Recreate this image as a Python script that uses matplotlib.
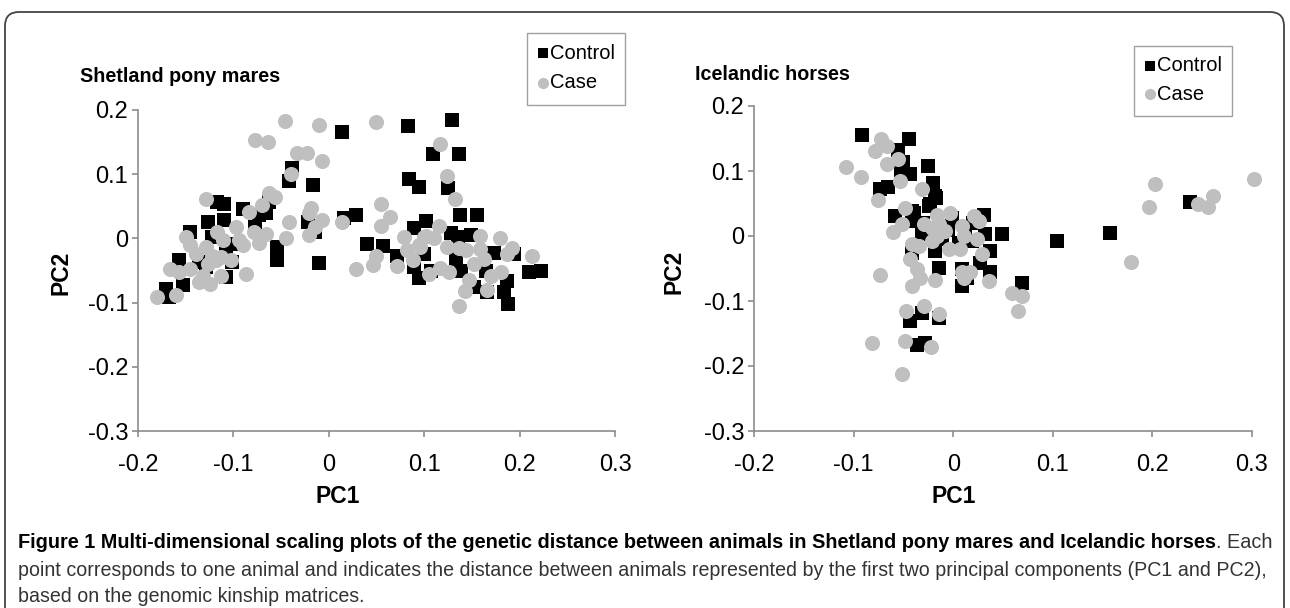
import matplotlib.pyplot as plt
from matplotlib.patches import FancyBboxPatch

plt.rcParams['font.family'] = ['Liberation Sans', 'DejaVu Sans']

# Shetland pony mares (PC1, PC2)
shet_ctrl_pc1 = [-0.117, -0.110, -0.090, -0.073, -0.066, -0.063, -0.127, -0.110, -0.077, -0.145,
                 -0.122, -0.054, -0.054, -0.010, -0.022, -0.014, -0.157, -0.108, -0.101, -0.129,
                 -0.108, -0.153, -0.171, -0.167, -0.103, -0.136,
                 0.014, 0.083, 0.129, 0.109, 0.137, -0.039, -0.042, -0.017, 0.084, 0.095,
                 0.125, 0.016, 0.028, 0.089, 0.102, 0.138, 0.155, 0.040, 0.057, 0.072,
                 0.100, 0.128, 0.135, 0.149, 0.089, 0.095, 0.107, 0.133, 0.139, 0.173,
                 0.194, 0.165, 0.187, 0.184, 0.188, 0.166, 0.152, 0.210, 0.222]
shet_ctrl_pc2 = [0.057, 0.054, 0.046, 0.036, 0.039, 0.057, 0.025, 0.028, 0.018, 0.010,
                 0.002, -0.014, -0.034, -0.039, 0.025, 0.010, -0.034, -0.016, -0.037, -0.045,
                 -0.060, -0.073, -0.079, -0.092, -0.008, -0.037,
                 0.165, 0.175, 0.185, 0.132, 0.131, 0.109, 0.090, 0.083, 0.092, 0.080,
                 0.078, 0.031, 0.037, 0.016, 0.027, 0.036, 0.037, -0.009, -0.012, -0.028,
                 -0.024, 0.008, 0.002, 0.005, -0.045, -0.061, -0.050, -0.032, -0.050, -0.023,
                 -0.024, -0.051, -0.067, -0.084, -0.102, -0.084, -0.076, -0.052, -0.051]

shet_case_pc1 = [-0.129, -0.084, -0.070, -0.063, -0.056, -0.019, -0.021, -0.007, -0.014, -0.021,
                 -0.042, -0.045, -0.066, -0.073, -0.078, -0.097, -0.117, -0.111, -0.094, -0.090,
                 -0.150, -0.146, -0.129, -0.139, -0.122, -0.113, -0.103, -0.127, -0.146, -0.157,
                 -0.166, -0.113, -0.087, -0.136, -0.125, -0.132, -0.180, -0.160, -0.118,
                 -0.046, -0.010, 0.049, -0.077, -0.064, -0.033, -0.023, -0.007, -0.040, 0.055,
                 0.064, 0.055, 0.014, 0.079, 0.100, 0.082, 0.095, 0.049, 0.117, 0.124,
                 0.132, 0.115, 0.102, 0.110, 0.158, 0.179, 0.096, 0.124, 0.137, 0.144,
                 0.159, 0.163, 0.152, 0.192, 0.187, 0.213, 0.117, 0.126, 0.105, 0.147,
                 0.143, 0.170, 0.180, 0.166, 0.137, 0.028, 0.046, 0.071, 0.088]
shet_case_pc2 = [0.062, 0.041, 0.052, 0.070, 0.065, 0.047, 0.039, 0.029, 0.018, 0.005,
                 0.025, 0.000, 0.007, -0.007, 0.010, 0.018, 0.010, -0.003, -0.003, -0.011,
                 0.002, -0.011, -0.014, -0.024, -0.027, -0.029, -0.034, -0.040, -0.047, -0.053,
                 -0.047, -0.058, -0.055, -0.068, -0.071, -0.058, -0.092, -0.088, -0.034,
                 0.183, 0.177, 0.181, 0.153, 0.150, 0.133, 0.133, 0.120, 0.101, 0.053,
                 0.033, 0.019, 0.025, 0.002, 0.002, -0.018, -0.011, -0.028, 0.147, 0.097,
                 0.061, 0.020, 0.003, 0.001, 0.003, 0.000, -0.013, -0.014, -0.015, -0.018,
                 -0.016, -0.032, -0.040, -0.015, -0.025, -0.028, -0.046, -0.053, -0.055, -0.065,
                 -0.082, -0.058, -0.052, -0.080, -0.105, -0.047, -0.041, -0.043, -0.034]

# Icelandic horses (PC1, PC2)
ice_ctrl_pc1 = [-0.092, -0.044, -0.055, -0.050, -0.043, -0.025, -0.020, -0.052, -0.065, -0.073,
                -0.058, -0.041, -0.039, -0.017, -0.023, 0.031, 0.049, -0.039, -0.018, -0.024,
                0.012, 0.019, 0.032, 0.037, 0.027, 0.037, -0.014, 0.009, 0.014, 0.009,
                -0.041, -0.018, -0.031, -0.001, 0.069, 0.006, -0.011, -0.043, -0.031, -0.014,
                -0.036, -0.028, 0.104, 0.157, 0.238, -0.030, -0.005, 0.020]
ice_ctrl_pc2 = [0.155, 0.150, 0.132, 0.114, 0.096, 0.107, 0.082, 0.101, 0.075, 0.072,
                0.031, 0.038, 0.023, 0.059, 0.049, 0.033, 0.003, 0.036, 0.062, 0.046,
                0.005, -0.008, 0.003, -0.023, -0.041, -0.056, -0.049, -0.051, -0.064, -0.077,
                -0.026, -0.023, 0.003, 0.028, -0.072, -0.010, -0.005, -0.131, -0.118, -0.126,
                -0.168, -0.164, -0.008, 0.005, 0.052, 0.020, 0.010, 0.020]

ice_case_pc1 = [-0.072, -0.066, -0.079, -0.108, -0.093, -0.066, -0.055, -0.053, -0.076, -0.031,
                -0.048, -0.060, -0.003, 0.021, 0.026, -0.016, -0.051, -0.029, -0.021, -0.014,
                -0.008, -0.021, -0.016, -0.004, 0.007, 0.009, 0.011, 0.024, 0.029, -0.041,
                -0.034, -0.043, -0.036, -0.033, -0.041, -0.018, 0.009, 0.017, 0.011, 0.036,
                0.059, 0.069, -0.073, -0.047, -0.029, -0.014, -0.082, -0.048, -0.022, -0.051,
                0.197, 0.203, 0.246, 0.256, 0.261, 0.302, 0.179, 0.065]
ice_case_pc2 = [0.149, 0.138, 0.131, 0.106, 0.091, 0.111, 0.118, 0.085, 0.055, 0.073,
                0.043, 0.006, 0.036, 0.031, 0.023, 0.033, 0.018, 0.018, 0.013, 0.018,
                0.008, -0.008, 0.000, -0.020, -0.020, 0.015, 0.000, -0.005, -0.028, -0.013,
                -0.015, -0.036, -0.050, -0.064, -0.077, -0.068, -0.056, -0.055, -0.064, -0.069,
                -0.087, -0.092, -0.060, -0.116, -0.108, -0.120, -0.164, -0.162, -0.171, -0.213,
                0.044, 0.080, 0.049, 0.044, 0.062, 0.088, -0.040, -0.116]

xticks = [-0.2, -0.1, 0, 0.1, 0.2, 0.3]
yticks = [-0.3, -0.2, -0.1, 0, 0.1, 0.2]

W, H = 1290, 608
fig = plt.figure(figsize=(W / 100, H / 100), dpi=100)

# background frame in pixel coordinates
bg = fig.add_axes([0, 0, 1, 1], zorder=-1)
bg.set_xlim(0, W)
bg.set_ylim(H, 0)
bg.axis('off')
bg.add_patch(FancyBboxPatch((5, 12), W - 11, 700, boxstyle='round,pad=0,rounding_size=14',
                            fc='white', ec='#444444', lw=1.3))

# overlay for the legends, above the plots
fg = fig.add_axes([0, 0, 1, 1], zorder=10)
fg.set_xlim(0, W)
fg.set_ylim(H, 0)
fg.axis('off')

gray = '#bfbfbf'
axis_col = '#8c8c8c'


def tick_lbl(v):
    return '0' if v == 0 else ('%.1f' % v)


def panel(rect, cx, cy, kx, ky, title, title_xy, leg_rect, xlab_pos, ylab_pos):
    ax = fig.add_axes(rect)
    ax.set_facecolor('none')
    ax.scatter(cx, cy, marker='s', s=108, c='black', linewidths=0, zorder=3, clip_on=False)
    ax.scatter(kx, ky, marker='o', s=118, c=gray, linewidths=0, zorder=4, clip_on=False)
    ax.set_xlim(-0.2, 0.3)
    ax.set_ylim(-0.3, 0.2)
    ax.set_xticks(xticks)
    ax.set_yticks(yticks)
    ax.set_xticklabels([tick_lbl(v) for v in xticks])
    ax.set_yticklabels([tick_lbl(v) for v in yticks])
    ax.tick_params(labelsize=17, colors=axis_col, labelcolor='black', length=4, width=1.2)
    ax.tick_params(axis='x', pad=12.5)
    ax.tick_params(axis='y', pad=3)
    for s in ['top', 'right']:
        ax.spines[s].set_visible(False)
    for s in ['left', 'bottom']:
        ax.spines[s].set_color(axis_col)
        ax.spines[s].set_linewidth(1.2)
    ax.set_xlabel('PC1', fontsize=16.5, fontweight='bold')
    ax.set_ylabel('PC2', fontsize=16.5, fontweight='bold')
    ax.xaxis.set_label_coords(*xlab_pos)
    ax.yaxis.set_label_coords(*ylab_pos)
    ax.xaxis.label.set_va('center')
    ax.yaxis.label.set_va('center')
    fig.text(title_xy[0] / W, 1 - title_xy[1] / H, title, fontsize=14.2, fontweight='bold',
             ha='left', va='center')
    # legend box
    lx, ly, lw, lh = leg_rect
    fg.add_patch(plt.Rectangle((lx, ly), lw, lh, fc='white', ec='#a0a0a0', lw=1))
    fg.scatter([lx + 16], [ly + lh * 0.28], marker='s', s=55, c='black', linewidths=0)
    fg.scatter([lx + 16], [ly + lh * 0.69], marker='o', s=65, c=gray, linewidths=0)
    fg.text(lx + 23, ly + lh * 0.28, 'Control', fontsize=14.5, va='center', ha='left')
    fg.text(lx + 23, ly + lh * 0.69, 'Case', fontsize=14.5, va='center', ha='left')
    return ax


panel([138 / W, 1 - 431 / H, 477 / W, 321 / H], shet_ctrl_pc1, shet_ctrl_pc2,
      shet_case_pc1, shet_case_pc2, 'Shetland pony mares', (80, 77), (527, 33, 98, 72),
      (0.419, -0.205), (-0.162, 0.492))
panel([754 / W, 1 - 431 / H, 498 / W, 325 / H], ice_ctrl_pc1, ice_ctrl_pc2,
      ice_case_pc1, ice_case_pc2, 'Icelandic horses', (695, 75), (1134, 46, 98, 70),
      (0.40, -0.203), (-0.16, 0.49))

# caption
cap_font = ['Liberation Sans Narrow', 'Liberation Sans', 'DejaVu Sans']
cap_size = 14.3
bold = bg.text(18, 543, 'Figure 1 Multi-dimensional scaling plots of the genetic distance between animals '
               'in Shetland pony mares and Icelandic horses', family=cap_font, fontsize=cap_size,
               fontweight='bold', va='center', ha='left')
fig.canvas.draw()
bb = bold.get_window_extent()
bg.text(bb.x1, 543, '. Each', family=cap_font, fontsize=cap_size, va='center', ha='left', color='#333333')
bg.text(18, 571, 'point corresponds to one animal and indicates the distance between animals represented '
        'by the first two principal components (PC1 and PC2),', family=cap_font, fontsize=14.1,
        va='center', ha='left', color='#333333')
bg.text(18, 597, 'based on the genomic kinship matrices.', family=cap_font, fontsize=14.1,
        va='center', ha='left', color='#333333')

fig.savefig('out.png', dpi=100)
